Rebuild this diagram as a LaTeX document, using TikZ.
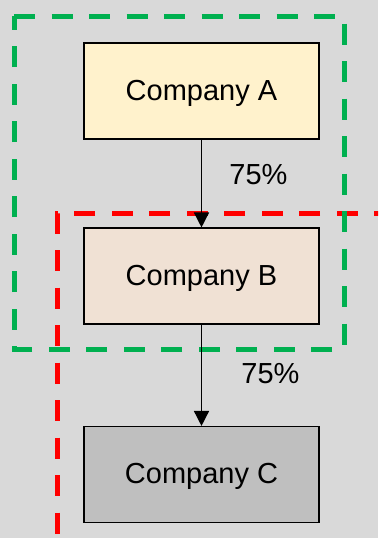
\documentclass[tikz,border=0pt]{standalone}
\usepackage{fontspec}
\setmainfont{Liberation Sans}
\usetikzlibrary{arrows.meta}
\definecolor{bg}{HTML}{D9D9D9}
\definecolor{fillA}{HTML}{FFF2CC}
\definecolor{fillB}{HTML}{F0E1D4}
\definecolor{fillC}{HTML}{BFBFBF}
\definecolor{grn}{HTML}{00B050}
\definecolor{rd}{HTML}{FF0000}
\tikzset{
  company/.style={draw=black, line width=1.1pt, minimum width=235pt, minimum height=96pt, inner sep=0pt, text height=21pt, text depth=3pt, font=\fontsize{29}{34}\selectfont},
  pct/.style={inner sep=0pt, anchor=base, font=\fontsize{29}{34}\selectfont},
  link/.style={line width=1.5pt, -{Triangle[length=15pt,width=15pt]}},
  grpdash/.style={line width=5pt, dash pattern=on 21pt off 16.5pt},
}
\begin{document}
\begin{tikzpicture}[x=1pt,y=-1pt]
\fill[bg] (0,0) rectangle (378,538);
\useasboundingbox (0,0) rectangle (378,538);
\clip (0,0) rectangle (378,538);
\node[company, fill=fillA] (A) at (201.5,91) {Company A};
\node[company, fill=fillB] (B) at (201.5,276) {Company B};
\node[company, fill=fillC] (C) at (201.5,474.5) {Company C};
\coordinate (r1) at (395,213);
\coordinate (r2) at (57,213);
\coordinate (r3) at (57,560);
\draw[grpdash, rd] (r1) -- (r2) -- (r3);
\coordinate (g1) at (14,16);
\coordinate (g2) at (344,16);
\coordinate (g3) at (344,349);
\coordinate (g4) at (14,349);
\draw[grpdash, grn] (g1) -- (g2) -- (g3) -- (g4) -- cycle;
\draw[link] (A) -- (B);
\draw[link] (B) -- (C);
\node[pct] (l1) at (258.5,184) {75\%};
\node[pct] (l2) at (270.5,383) {75\%};
\end{tikzpicture}
\end{document}
